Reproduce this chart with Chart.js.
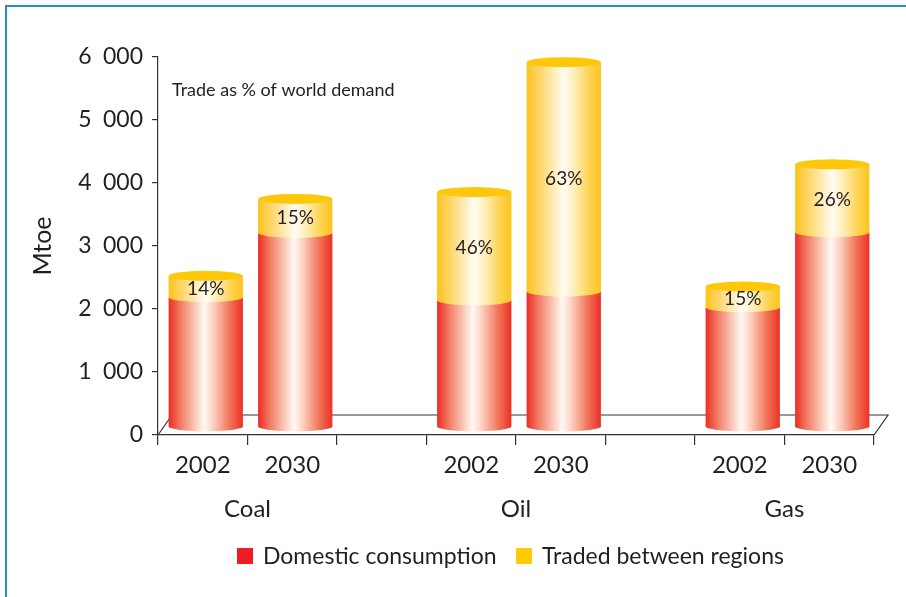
<!DOCTYPE html>
<html>
<head>
<meta charset="utf-8">
<script src="https://cdn.jsdelivr.net/npm/chart.js@4.4.0/dist/chart.umd.min.js"></script>
<style>
  html, body { margin: 0; padding: 0; background: #fff; }
  #wrap { position: relative; width: 906px; height: 597px; overflow: hidden; }
  #frame { position: absolute; left: 5px; top: 5px; width: 920px; height: 620px;
           border-top: 2px solid #2b8ad8; border-left: 2px solid #2b8ad8; }
  canvas { position: absolute; left: 0; top: 0; }
</style>
</head>
<body>
<div id="wrap">
  <div id="frame"></div>
  <canvas id="chart" width="906" height="597"></canvas>
</div>
<script>
// slots on the x axis: two years per fuel, with an empty slot between fuels
const slots = ['2002', '2030', '', '2002', '2030', '', '2002', '2030'];
const fuels = ['Coal', 'Oil', 'Gas'];
const fuelSlots = [[0, 1], [3, 4], [6, 7]];

// Mtoe
const domestic = [2060, 3080, null, 2010, 2150, null, 1900, 3090];
const traded = [340, 540, null, 1720, 3640, null, 330, 1080];
const tradeShare = ['14%', '15%', '', '46%', '63%', '', '15%', '26%'];

const yTicks = [0, 1000, 2000, 3000, 4000, 5000, 6000];

const FONT = 'Lato, "Noto Sans", sans-serif';
const INK = '#231f20';
const RED = '#ee1c25';
const GOLD = '#ffcb05';

// depth of the floor and where the cylinders sit on it
const FLOOR_DX = 14, FLOOR_DY = -20;
const BAR_DX = 3, BAR_DY = -8, CAP_RY = 5;

const RED_STOPS = [[0, '#ec2c25'], [0.16, '#f27b63'], [0.38, '#fbd3c4'], [0.48, '#fff8f5'],
                   [0.6, '#fcd2c2'], [0.82, '#f27559'], [1, '#ec2f27']];
const GOLD_STOPS = [[0, '#fcc31a'], [0.18, '#fdd66a'], [0.4, '#fff0c6'], [0.5, '#fffcf2'],
                    [0.62, '#fff0c4'], [0.85, '#fdd24f'], [1, '#fcc41c']];

function gradient(ctx, x0, x1, stops) {
    const g = ctx.createLinearGradient(x0, 0, x1, 0);
    stops.forEach(s => g.addColorStop(s[0], s[1]));
    return g;
}

// body of one cylinder segment, rounded at the bottom
function segment(ctx, cx, rx, yTop, yBot, fill) {
    ctx.beginPath();
    ctx.moveTo(cx - rx, yTop);
    ctx.lineTo(cx - rx, yBot);
    ctx.ellipse(cx, yBot, rx, CAP_RY, 0, Math.PI, 0, true);
    ctx.lineTo(cx + rx, yTop);
    ctx.closePath();
    ctx.fillStyle = fill;
    ctx.fill();
}

// "6 000" style, with a wide gap between thousands
function formatTick(v) {
    if (v < 1000) return String(v);
    return Math.floor(v / 1000) + '\u2002' + String(v % 1000).padStart(3, '0');
}

const floorPlugin = {
    id: 'floor',
    beforeDatasetsDraw(chart) {
        const { ctx, chartArea: a } = chart;
        ctx.save();
        ctx.strokeStyle = '#333';
        ctx.lineWidth = 1.2;
        ctx.beginPath();
        ctx.moveTo(a.left, a.bottom);
        ctx.lineTo(a.left + FLOOR_DX, a.bottom + FLOOR_DY);
        ctx.lineTo(a.right + FLOOR_DX, a.bottom + FLOOR_DY);
        ctx.lineTo(a.right, a.bottom);
        ctx.stroke();
        ctx.restore();
    }
};

const cylinderPlugin = {
    id: 'cylinders',
    afterDatasetsDraw(chart) {
        const ctx = chart.ctx;
        const low = chart.getDatasetMeta(0).data;
        const high = chart.getDatasetMeta(1).data;
        ctx.save();
        slots.forEach((s, i) => {
            if (domestic[i] == null) return;
            const lo = low[i], hi = high[i];
            const cx = lo.x + BAR_DX;
            const rx = lo.width / 2;
            const base = lo.base + BAR_DY;
            const mid = lo.y + BAR_DY;
            const top = hi.y + BAR_DY;
            segment(ctx, cx, rx, mid, base, gradient(ctx, cx - rx, cx + rx, RED_STOPS));
            segment(ctx, cx, rx, top, mid, gradient(ctx, cx - rx, cx + rx, GOLD_STOPS));
            ctx.beginPath();
            ctx.ellipse(cx, top, rx, CAP_RY, 0, 0, Math.PI * 2);
            ctx.fillStyle = '#fdc80a';
            ctx.fill();

            ctx.fillStyle = INK;
            ctx.font = '19px ' + FONT;
            ctx.textAlign = 'center';
            ctx.textBaseline = 'middle';
            ctx.fillText(tradeShare[i], cx, (top + mid) / 2 + 2);
        });
        ctx.restore();
    }
};

const textPlugin = {
    id: 'texts',
    afterDraw(chart) {
        const { ctx, scales: { x } } = chart;
        ctx.save();
        ctx.fillStyle = INK;
        ctx.textBaseline = 'middle';

        ctx.font = '18px ' + FONT;
        ctx.textAlign = 'left';
        ctx.fillText('Trade as % of world demand', 172, 90);

        ctx.font = '24px ' + FONT;
        ctx.textAlign = 'center';
        fuels.forEach((f, k) => {
            const p = fuelSlots[k];
            const xm = (x.getPixelForValue(p[0]) + x.getPixelForValue(p[1])) / 2;
            ctx.fillText(f, xm, 509);
        });

        // legend
        const items = [
            { text: chart.data.datasets[0].label, color: RED, x: 237 },
            { text: chart.data.datasets[1].label, color: GOLD, x: 516 }
        ];
        ctx.font = '23px ' + FONT;
        ctx.textAlign = 'left';
        items.forEach(it => {
            ctx.fillStyle = it.color;
            ctx.fillRect(it.x, 548, 16, 16);
            ctx.fillStyle = INK;
            ctx.fillText(it.text, it.x + 26, 557);
        });
        ctx.restore();
    }
};

new Chart(document.getElementById('chart'), {
    type: 'bar',
    data: {
        labels: slots,
        datasets: [
            { label: 'Domestic consumption', data: domestic, backgroundColor: 'rgba(0,0,0,0)', stack: 'fuel' },
            { label: 'Traded between regions', data: traded, backgroundColor: 'rgba(0,0,0,0)', stack: 'fuel' }
        ]
    },
    options: {
        responsive: false,
        animation: false,
        events: [],
        barPercentage: 0.83,
        categoryPercentage: 1,
        layout: { padding: { left: 0, top: 57, right: 32, bottom: 0 } },
        plugins: {
            legend: { display: false },
            tooltip: { enabled: false }
        },
        scales: {
            x: {
                stacked: true,
                offset: true,
                grid: { offset: true, drawOnChartArea: false, tickLength: 10, color: '#333', lineWidth: 1.2 },
                border: { color: '#333', width: 1.2 },
                ticks: { color: INK, font: { family: FONT, size: 24 }, padding: 6, maxRotation: 0, autoSkip: false },
                afterFit(scale) { scale.height = 597 - 435; }
            },
            y: {
                stacked: true,
                min: 0,
                max: 6000,
                afterBuildTicks(scale) { scale.ticks = yTicks.map(v => ({ value: v })); },
                ticks: {
                    color: INK,
                    font: { family: FONT, size: 23 },
                    padding: 9,
                    callback: formatTick
                },
                grid: { drawOnChartArea: false, tickLength: 6, color: '#333', lineWidth: 1.2 },
                border: { color: '#333', width: 1.2 },
                title: { display: true, text: 'Mtoe', color: INK, font: { family: FONT, size: 25 }, padding: { top: 28, bottom: 0 } },
                afterFit(scale) { scale.width = 158; }
            }
        }
    },
    plugins: [floorPlugin, cylinderPlugin, textPlugin]
});
</script>
</body>
</html>
